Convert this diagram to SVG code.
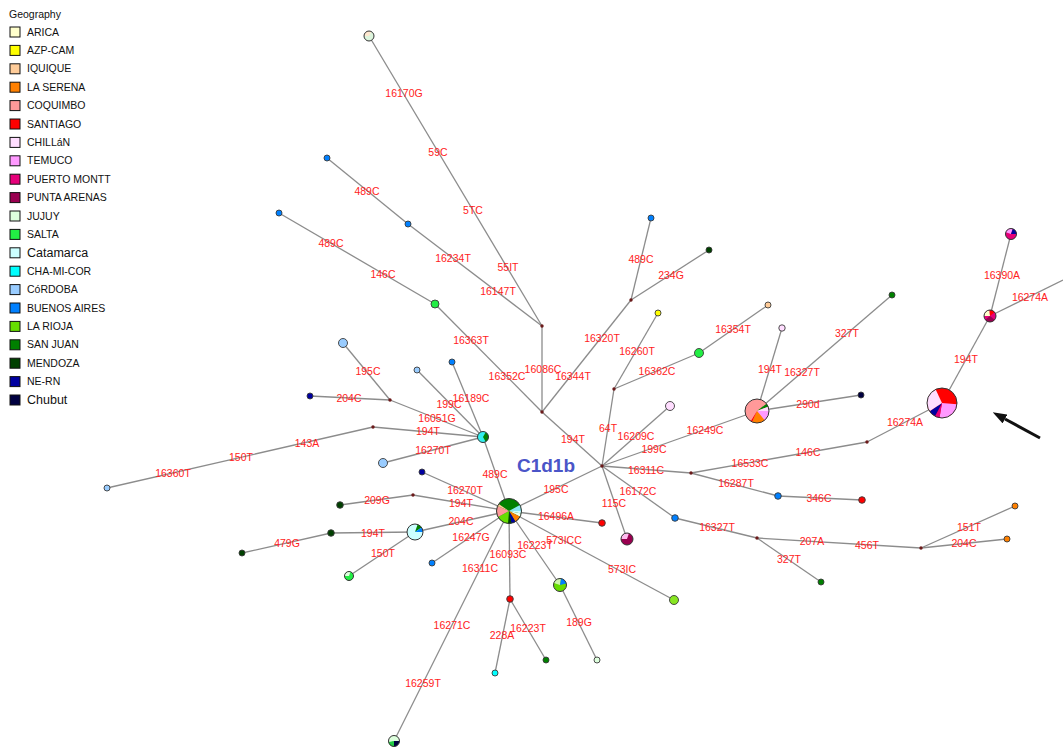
<svg xmlns="http://www.w3.org/2000/svg" width="1063" height="749" viewBox="0 0 1063 749">
<defs>
  <style>
    .edge{stroke:#8c8c8c;stroke-width:1.3;fill:none}
    .lbl{font-family:"Liberation Sans",Arial,sans-serif;font-size:10.5px;fill:#ff2222;text-anchor:middle}
    .lg{font-family:"Liberation Sans",Arial,sans-serif;font-size:10.5px;fill:#111}
    .lgb{font-family:"Liberation Sans",Arial,sans-serif;font-size:12.5px;fill:#111}
    .sw{stroke:#111;stroke-width:1}
    .node{stroke:#3a3a3a;stroke-width:0.9}
    .ring{fill:none;stroke:#333;stroke-width:1}
    .med{fill:#6b1a1a}
    .sl{fill:none}
    .arica{fill:#FFFFCC}.azp{fill:#FFFF00}.iqq{fill:#FFCC99}.lser{fill:#FF8000}.coq{fill:#FF9999}
    .stgo{fill:#FF0000}.chil{fill:#FFDDFF}.tem{fill:#FF99FF}.pmon{fill:#E6007A}.pare{fill:#990050}
    .juj{fill:#DDFFDD}.sal{fill:#22EE44}.cat{fill:#CCFFFF}.cha{fill:#00FFFF}.cor{fill:#99CCFF}
    .bsas{fill:#0080FF}.lrio{fill:#66DD00}.sjua{fill:#008000}.mend{fill:#004000}.nern{fill:#0000A0}.chub{fill:#000040}
    .title{font-family:"Liberation Sans",Arial,sans-serif;font-size:19px;font-weight:bold;fill:#4a55c8;text-anchor:middle}
  </style>
  <marker id="arrowhead" viewBox="0 0 14 10" markerWidth="14" markerHeight="10" refX="0" refY="5" orient="auto" markerUnits="userSpaceOnUse">
    <path d="M0,0 L14,5 L0,10 z" fill="#111"/>
  </marker>
</defs>
<rect width="1063" height="749" fill="#ffffff"/>

<!-- legend -->
<g id="legend">
  <text x="9" y="18" class="lg">Geography</text>
  <rect x="10" y="27" width="10" height="10" class="sw arica"/><text x="27" y="35.5" class="lg">ARICA</text>
  <rect x="10" y="45.4" width="10" height="10" class="sw azp"/><text x="27" y="53.9" class="lg">AZP-CAM</text>
  <rect x="10" y="63.8" width="10" height="10" class="sw iqq"/><text x="27" y="72.3" class="lg">IQUIQUE</text>
  <rect x="10" y="82.2" width="10" height="10" class="sw lser"/><text x="27" y="90.7" class="lg">LA SERENA</text>
  <rect x="10" y="100.6" width="10" height="10" class="sw coq"/><text x="27" y="109.1" class="lg">COQUIMBO</text>
  <rect x="10" y="119" width="10" height="10" class="sw stgo"/><text x="27" y="127.5" class="lg">SANTIAGO</text>
  <rect x="10" y="137.4" width="10" height="10" class="sw chil"/><text x="27" y="145.9" class="lg">CHILLáN</text>
  <rect x="10" y="155.8" width="10" height="10" class="sw tem"/><text x="27" y="164.3" class="lg">TEMUCO</text>
  <rect x="10" y="174.2" width="10" height="10" class="sw pmon"/><text x="27" y="182.7" class="lg">PUERTO MONTT</text>
  <rect x="10" y="192.6" width="10" height="10" class="sw pare"/><text x="27" y="201.1" class="lg">PUNTA ARENAS</text>
  <rect x="10" y="211" width="10" height="10" class="sw juj"/><text x="27" y="219.5" class="lg">JUJUY</text>
  <rect x="10" y="229.4" width="10" height="10" class="sw sal"/><text x="27" y="237.9" class="lg">SALTA</text>
  <rect x="10" y="247.8" width="10" height="10" class="sw cat"/><text x="27" y="257.2" class="lgb">Catamarca</text>
  <rect x="10" y="266.2" width="10" height="10" class="sw cha"/><text x="27" y="274.7" class="lg">CHA-MI-COR</text>
  <rect x="10" y="284.6" width="10" height="10" class="sw cor"/><text x="27" y="293.1" class="lg">CóRDOBA</text>
  <rect x="10" y="303" width="10" height="10" class="sw bsas"/><text x="27" y="311.5" class="lg">BUENOS AIRES</text>
  <rect x="10" y="321.4" width="10" height="10" class="sw lrio"/><text x="27" y="329.9" class="lg">LA RIOJA</text>
  <rect x="10" y="339.8" width="10" height="10" class="sw sjua"/><text x="27" y="348.3" class="lg">SAN JUAN</text>
  <rect x="10" y="358.2" width="10" height="10" class="sw mend"/><text x="27" y="366.7" class="lg">MENDOZA</text>
  <rect x="10" y="376.6" width="10" height="10" class="sw nern"/><text x="27" y="385.1" class="lg">NE-RN</text>
  <rect x="10" y="395" width="10" height="10" class="sw chub"/><text x="27" y="404.4" class="lgb">Chubut</text>
</g>

<!-- connectors -->
<g id="connectors">
  <line class="edge" x1="542" y1="326" x2="369" y2="36"/>
  <line class="edge" x1="542" y1="326" x2="408" y2="224"/>
  <line class="edge" x1="408" y1="224" x2="327" y2="158"/>
  <line class="edge" x1="542" y1="412" x2="435" y2="304"/>
  <line class="edge" x1="435" y1="304" x2="279" y2="213"/>
  <line class="edge" x1="542" y1="326" x2="542" y2="412"/>
  <line class="edge" x1="542" y1="412" x2="602" y2="466"/>
  <line class="edge" x1="542" y1="412" x2="631" y2="300"/>
  <line class="edge" x1="631" y1="300" x2="651" y2="218"/>
  <line class="edge" x1="631" y1="300" x2="709" y2="250"/>
  <line class="edge" x1="614" y1="389" x2="658" y2="313"/>
  <line class="edge" x1="614" y1="389" x2="699" y2="353"/>
  <line class="edge" x1="699" y1="353" x2="768" y2="305"/>
  <line class="edge" x1="614" y1="389" x2="602" y2="466"/>
  <line class="edge" x1="602" y1="466" x2="670" y2="406"/>
  <line class="edge" x1="602" y1="466" x2="757" y2="411"/>
  <line class="edge" x1="757" y1="411" x2="782" y2="328"/>
  <line class="edge" x1="757" y1="411" x2="892" y2="295"/>
  <line class="edge" x1="757" y1="411" x2="861" y2="395"/>
  <line class="edge" x1="602" y1="466" x2="691" y2="473"/>
  <line class="edge" x1="691" y1="473" x2="867" y2="442"/>
  <line class="edge" x1="867" y1="442" x2="942" y2="403"/>
  <line class="edge" x1="942" y1="403" x2="990" y2="316"/>
  <line class="edge" x1="990" y1="316" x2="1011" y2="234"/>
  <line class="edge" x1="990" y1="316" x2="1063" y2="280"/>
  <line class="edge" x1="691" y1="473" x2="778" y2="496"/>
  <line class="edge" x1="778" y1="496" x2="862" y2="500"/>
  <line class="edge" x1="602" y1="466" x2="675" y2="518"/>
  <line class="edge" x1="675" y1="518" x2="757" y2="538"/>
  <line class="edge" x1="757" y1="538" x2="821" y2="582"/>
  <line class="edge" x1="757" y1="538" x2="921" y2="548"/>
  <line class="edge" x1="921" y1="548" x2="1015" y2="506"/>
  <line class="edge" x1="921" y1="548" x2="1007" y2="539"/>
  <line class="edge" x1="602" y1="466" x2="627" y2="539"/>
  <line class="edge" x1="509" y1="511" x2="602" y2="466"/>
  <line class="edge" x1="509" y1="511" x2="602" y2="523"/>
  <line class="edge" x1="509" y1="511" x2="674" y2="600"/>
  <line class="edge" x1="509" y1="511" x2="560" y2="585"/>
  <line class="edge" x1="560" y1="585" x2="597" y2="660"/>
  <line class="edge" x1="509" y1="511" x2="510" y2="599"/>
  <line class="edge" x1="510" y1="599" x2="495" y2="673"/>
  <line class="edge" x1="510" y1="599" x2="546" y2="660"/>
  <line class="edge" x1="509" y1="511" x2="394" y2="741"/>
  <line class="edge" x1="509" y1="511" x2="432" y2="563"/>
  <line class="edge" x1="509" y1="511" x2="415" y2="532"/>
  <line class="edge" x1="415" y1="532" x2="331" y2="533"/>
  <line class="edge" x1="331" y1="533" x2="242" y2="553"/>
  <line class="edge" x1="415" y1="532" x2="349" y2="576"/>
  <line class="edge" x1="509" y1="511" x2="413" y2="495"/>
  <line class="edge" x1="413" y1="495" x2="340" y2="505"/>
  <line class="edge" x1="509" y1="511" x2="422" y2="472"/>
  <line class="edge" x1="509" y1="511" x2="483" y2="437"/>
  <line class="edge" x1="483" y1="437" x2="383" y2="463"/>
  <line class="edge" x1="483" y1="437" x2="373" y2="427"/>
  <line class="edge" x1="373" y1="427" x2="107" y2="488"/>
  <line class="edge" x1="483" y1="437" x2="390" y2="400"/>
  <line class="edge" x1="390" y1="400" x2="310" y2="396"/>
  <line class="edge" x1="390" y1="400" x2="343" y2="343"/>
  <line class="edge" x1="483" y1="437" x2="417" y2="370"/>
  <line class="edge" x1="483" y1="437" x2="452" y2="362"/>

  <!-- mutation labels -->
  <text class="lbl" x="404" y="96.5">16170G</text>
  <text class="lbl" x="438" y="155.5">59C</text>
  <text class="lbl" x="473" y="213.5">5TC</text>
  <text class="lbl" x="508" y="270.5">55IT</text>
  <text class="lbl" x="367" y="194.5">489C</text>
  <text class="lbl" x="453" y="261.5">16234T</text>
  <text class="lbl" x="498" y="294.5">16147T</text>
  <text class="lbl" x="331" y="246.5">489C</text>
  <text class="lbl" x="383" y="277.5">146C</text>
  <text class="lbl" x="471" y="343.5">16363T</text>
  <text class="lbl" x="507" y="379.5">16352C</text>
  <text class="lbl" x="543" y="372.5">16086C</text>
  <text class="lbl" x="573" y="379.5">16344T</text>
  <text class="lbl" x="602" y="341.5">16320T</text>
  <text class="lbl" x="573" y="442.5">194T</text>
  <text class="lbl" x="641" y="262.5">489C</text>
  <text class="lbl" x="671" y="278.5">234G</text>
  <text class="lbl" x="637" y="354.5">16260T</text>
  <text class="lbl" x="657" y="374.5">16362C</text>
  <text class="lbl" x="733" y="332.5">16354T</text>
  <text class="lbl" x="608" y="431.5">64T</text>
  <text class="lbl" x="636" y="439.5">16209C</text>
  <text class="lbl" x="654" y="452.5">199C</text>
  <text class="lbl" x="705" y="433.5">16249C</text>
  <text class="lbl" x="770" y="372.5">194T</text>
  <text class="lbl" x="802" y="375.5">16327T</text>
  <text class="lbl" x="847" y="336.5">327T</text>
  <text class="lbl" x="808" y="407.5">290d</text>
  <text class="lbl" x="646" y="473.5">16311C</text>
  <text class="lbl" x="750" y="466.5">16533C</text>
  <text class="lbl" x="808" y="455.5">146C</text>
  <text class="lbl" x="905" y="425.5">16274A</text>
  <text class="lbl" x="966" y="362.5">194T</text>
  <text class="lbl" x="1002" y="278.5">16390A</text>
  <text class="lbl" x="1030" y="300.5">16274A</text>
  <text class="lbl" x="736" y="486.5">16287T</text>
  <text class="lbl" x="819" y="501.5">346C</text>
  <text class="lbl" x="638" y="494.5">16172C</text>
  <text class="lbl" x="614" y="506.5">115C</text>
  <text class="lbl" x="717" y="530.5">16327T</text>
  <text class="lbl" x="789" y="562.5">327T</text>
  <text class="lbl" x="812" y="544.5">207A</text>
  <text class="lbl" x="867" y="548.5">456T</text>
  <text class="lbl" x="969" y="530.5">151T</text>
  <text class="lbl" x="964" y="546.5">204C</text>
  <text class="lbl" x="556" y="492.5">195C</text>
  <text class="lbl" x="556" y="519.5">16496A</text>
  <text class="lbl" x="564" y="543.5">573ICC</text>
  <text class="lbl" x="622" y="572.5">573IC</text>
  <text class="lbl" x="535" y="549">16223T</text>
  <text class="lbl" x="579" y="625.5">189G</text>
  <text class="lbl" x="508" y="558">16093C</text>
  <text class="lbl" x="502" y="638.5">228A</text>
  <text class="lbl" x="528" y="631.5">16223T</text>
  <text class="lbl" x="480" y="571.5">16311C</text>
  <text class="lbl" x="452" y="628.5">16271C</text>
  <text class="lbl" x="423" y="686.5">16259T</text>
  <text class="lbl" x="471" y="540.5">16247G</text>
  <text class="lbl" x="461" y="524.5">204C</text>
  <text class="lbl" x="373" y="536.5">194T</text>
  <text class="lbl" x="287" y="546.5">479G</text>
  <text class="lbl" x="383" y="556.5">150T</text>
  <text class="lbl" x="461" y="506.5">194T</text>
  <text class="lbl" x="377" y="503.5">209G</text>
  <text class="lbl" x="465" y="493.5">16270T</text>
  <text class="lbl" x="495" y="477.5">489C</text>
  <text class="lbl" x="433" y="453.5">16270T</text>
  <text class="lbl" x="428" y="434.5">194T</text>
  <text class="lbl" x="307" y="446.5">143A</text>
  <text class="lbl" x="241" y="460.5">150T</text>
  <text class="lbl" x="173" y="476.5">16360T</text>
  <text class="lbl" x="437" y="421.5">16051G</text>
  <text class="lbl" x="349" y="401.5">204C</text>
  <text class="lbl" x="368" y="374.5">195C</text>
  <text class="lbl" x="449" y="407.5">199C</text>
  <text class="lbl" x="471" y="401.5">16189C</text>
</g>

<!-- median vectors -->
<g id="medians">
  <circle id="mv1" class="med" cx="542" cy="412" r="1.7"/>
  <circle id="mv2" class="med" cx="542" cy="326" r="1.7"/>
  <circle id="mv3" class="med" cx="602" cy="466" r="1.7"/>
  <circle id="mv4" class="med" cx="614" cy="389" r="1.7"/>
  <circle id="mv5" class="med" cx="631" cy="300" r="1.7"/>
  <circle id="mv6" class="med" cx="691" cy="473" r="1.7"/>
  <circle id="mv7" class="med" cx="867" cy="442" r="1.7"/>
  <circle id="mv8" class="med" cx="757" cy="538" r="1.7"/>
  <circle id="mv9" class="med" cx="921" cy="548" r="1.7"/>
  <circle id="mv10" class="med" cx="413" cy="495" r="1.7"/>
  <circle id="mv11" class="med" cx="373" cy="427" r="1.7"/>
  <circle id="mv12" class="med" cx="390" cy="400" r="1.7"/>
</g>

<!-- haplotype nodes -->
<g id="n-root" transform="translate(509 511)">
  <circle r="12.5" class="sjua"/>
  <circle class="sl" r="6.25" stroke-width="12.5" pathLength="360" stroke="#CCFFFF" stroke-dasharray="12 360" stroke-dashoffset="0"/>
  <circle class="sl" r="6.25" stroke-width="12.5" pathLength="360" stroke="#EEFFEE" stroke-dasharray="16 360" stroke-dashoffset="-12"/>
  <circle class="sl" r="6.25" stroke-width="12.5" pathLength="360" stroke="#FF8000" stroke-dasharray="30 360" stroke-dashoffset="-28"/>
  <circle class="sl" r="6.25" stroke-width="12.5" pathLength="360" stroke="#0000A0" stroke-dasharray="20 360" stroke-dashoffset="-58"/>
  <circle class="sl" r="6.25" stroke-width="12.5" pathLength="360" stroke="#004000" stroke-dasharray="17 360" stroke-dashoffset="-78"/>
  <circle class="sl" r="6.25" stroke-width="12.5" pathLength="360" stroke="#66DD00" stroke-dasharray="55 360" stroke-dashoffset="-95"/>
  <circle class="sl" r="6.25" stroke-width="12.5" pathLength="360" stroke="#FF9999" stroke-dasharray="55 360" stroke-dashoffset="-150"/>
  <circle class="sl" r="6.25" stroke-width="12.5" pathLength="360" stroke="#FFCC99" stroke-dasharray="10 360" stroke-dashoffset="-205"/>
  <circle class="sl" r="6.25" stroke-width="12.5" pathLength="360" stroke="#88E8F4" stroke-dasharray="30 360" stroke-dashoffset="-330"/>
  <circle r="12.5" class="ring"/>
</g>
<g id="n-coquimbo" transform="translate(757 411)">
  <circle r="12" class="coq"/>
  <circle class="sl" r="6" stroke-width="12" pathLength="360" stroke="#FF99FF" stroke-dasharray="50 360" stroke-dashoffset="0"/>
  <circle class="sl" r="6" stroke-width="12" pathLength="360" stroke="#FF8000" stroke-dasharray="65 360" stroke-dashoffset="-50"/>
  <circle class="sl" r="6" stroke-width="12" pathLength="360" stroke="#FF0000" stroke-dasharray="7 360" stroke-dashoffset="-115"/>
  <circle class="sl" r="6" stroke-width="12" pathLength="360" stroke="#008000" stroke-dasharray="16 360" stroke-dashoffset="-322"/>
  <circle class="sl" r="6" stroke-width="12" pathLength="360" stroke="#FFDDFF" stroke-dasharray="22 360" stroke-dashoffset="-338"/>
  <circle r="12" class="ring"/>
</g>
<g id="n-chile-south" transform="translate(942 403)">
  <circle r="15" class="stgo"/>
  <circle class="sl" r="7.5" stroke-width="15" pathLength="360" stroke="#FF99FF" stroke-dasharray="95 360" stroke-dashoffset="-5"/>
  <circle class="sl" r="7.5" stroke-width="15" pathLength="360" stroke="#E6007A" stroke-dasharray="18 360" stroke-dashoffset="-100"/>
  <circle class="sl" r="7.5" stroke-width="15" pathLength="360" stroke="#0000A0" stroke-dasharray="28 360" stroke-dashoffset="-118"/>
  <circle class="sl" r="7.5" stroke-width="15" pathLength="360" stroke="#FFDDFF" stroke-dasharray="99 360" stroke-dashoffset="-146"/>
  <circle r="15" class="ring"/>
</g>
<g id="n-pmontt" transform="translate(990 316)">
  <circle r="6" class="pmon"/>
  <circle class="sl" r="3" stroke-width="6" pathLength="360" stroke="#990050" stroke-dasharray="100 360" stroke-dashoffset="-40"/>
  <circle class="sl" r="3" stroke-width="6" pathLength="360" stroke="#FFFFCC" stroke-dasharray="85 360" stroke-dashoffset="-180"/>
  <circle class="sl" r="3" stroke-width="6" pathLength="360" stroke="#FF0000" stroke-dasharray="55 360" stroke-dashoffset="-265"/>
  <circle r="6" class="ring"/>
</g>
<g id="n-pmontt2" transform="translate(1011 234)">
  <circle r="5.5" class="pmon"/>
  <circle class="sl" r="2.75" stroke-width="5.5" pathLength="360" stroke="#FF99FF" stroke-dasharray="90 360" stroke-dashoffset="-200"/>
  <circle class="sl" r="2.75" stroke-width="5.5" pathLength="360" stroke="#0000A0" stroke-dasharray="70 360" stroke-dashoffset="-290"/>
  <circle r="5.5" class="ring"/>
</g>
<g id="n-parenas" transform="translate(627 539)">
  <circle r="6" class="pare"/>
  <circle class="sl" r="3" stroke-width="6" pathLength="360" stroke="#FFBBEE" stroke-dasharray="110 360" stroke-dashoffset="-180"/>
  <circle r="6" class="ring"/>
</g>
<g id="n-catamarca" transform="translate(415 532)">
  <circle r="8" class="cat"/>
  <circle class="sl" r="4" stroke-width="8" pathLength="360" stroke="#008000" stroke-dasharray="35 360" stroke-dashoffset="-290"/>
  <circle class="sl" r="4" stroke-width="8" pathLength="360" stroke="#0080FF" stroke-dasharray="35 360" stroke-dashoffset="-325"/>
  <circle r="8" class="ring"/>
</g>
<g id="n-larioja" transform="translate(560 585)">
  <circle r="6.5" class="lrio"/>
  <circle class="sl" r="3.25" stroke-width="6.5" pathLength="360" stroke="#CCF5AA" stroke-dasharray="80 360" stroke-dashoffset="-200"/>
  <circle class="sl" r="3.25" stroke-width="6.5" pathLength="360" stroke="#0080FF" stroke-dasharray="65 360" stroke-dashoffset="-280"/>
  <circle r="6.5" class="ring"/>
</g>
<g id="n-chamicor" transform="translate(483 437)">
  <circle r="5.5" fill="#33EEEE"/>
  <circle class="sl" r="2.75" stroke-width="5.5" pathLength="360" stroke="#008000" stroke-dasharray="60 360" stroke-dashoffset="-300"/>
  <circle class="sl" r="2.75" stroke-width="5.5" pathLength="360" stroke="#008000" stroke-dasharray="60 360" stroke-dashoffset="0"/>
  <circle r="5.5" class="ring"/>
</g>
<g id="n-bottom" transform="translate(394 741)">
  <circle r="5.5" class="juj"/>
  <circle class="sl" r="2.75" stroke-width="5.5" pathLength="360" stroke="#000040" stroke-dasharray="90 360" stroke-dashoffset="0"/>
  <circle class="sl" r="2.75" stroke-width="5.5" pathLength="360" stroke="#22CC44" stroke-dasharray="80 360" stroke-dashoffset="-90"/>
  <circle r="5.5" class="ring"/>
</g>
<g id="n-top" transform="translate(369 36)">
  <circle r="5" fill="#DDF5DD"/>
  <circle class="sl" r="2.5" stroke-width="5" pathLength="360" stroke="#FFE8D0" stroke-dasharray="120 360" stroke-dashoffset="-180"/>
  <circle r="5" class="ring"/>
</g>
<g id="n-salta3" transform="translate(349 576)">
  <circle r="4.5" class="sal"/>
  <circle class="sl" r="2.25" stroke-width="4.5" pathLength="360" stroke="#DDFFDD" stroke-dasharray="110 360" stroke-dashoffset="-180"/>
  <circle r="4.5" class="ring"/>
</g>

<g id="n-ba1"><circle class="node bsas" cx="327" cy="158" r="3"/></g>
<g id="n-ba2"><circle class="node bsas" cx="408" cy="224" r="3"/></g>
<g id="n-ba3"><circle class="node bsas" cx="279" cy="213" r="3"/></g>
<g id="n-salta1"><circle class="node sal" cx="435" cy="304" r="4"/></g>
<g id="n-ba4"><circle class="node bsas" cx="651" cy="218" r="3"/></g>
<g id="n-mend1"><circle class="node mend" cx="709" cy="250" r="3"/></g>
<g id="n-azp"><circle class="node azp" cx="658" cy="313" r="3"/></g>
<g id="n-salta2"><circle class="node sal" cx="699" cy="353" r="4.5"/></g>
<g id="n-iqq"><circle class="node iqq" cx="768" cy="305" r="3"/></g>
<g id="n-chil1"><circle class="node chil" cx="670" cy="406" r="4.5"/></g>
<g id="n-chil2"><circle class="node chil" cx="782" cy="328" r="3.2"/></g>
<g id="n-sj1"><circle class="node sjua" cx="892" cy="295" r="3"/></g>
<g id="n-chub"><circle class="node chub" cx="861" cy="395" r="3"/></g>
<g id="n-ba5"><circle class="node bsas" cx="778" cy="496" r="3.3"/></g>
<g id="n-stgo1"><circle class="node stgo" cx="862" cy="500" r="3.3"/></g>
<g id="n-ba6"><circle class="node bsas" cx="675" cy="518" r="3.3"/></g>
<g id="n-sj2"><circle class="node sjua" cx="821" cy="582" r="3"/></g>
<g id="n-lser1"><circle class="node lser" cx="1015" cy="506" r="3"/></g>
<g id="n-lser2"><circle class="node lser" cx="1007" cy="539" r="3"/></g>
<g id="n-stgo2"><circle class="node stgo" cx="602" cy="523" r="3.3"/></g>
<g id="n-lrio1"><circle class="node" fill="#88E622" cx="674" cy="600" r="4.5"/></g>
<g id="n-juj1"><circle class="node juj" cx="597" cy="660" r="3"/></g>
<g id="n-stgo3"><circle class="node stgo" cx="510" cy="599" r="3.3"/></g>
<g id="n-cha1"><circle class="node cha" cx="495" cy="673" r="3"/></g>
<g id="n-sj3"><circle class="node sjua" cx="546" cy="660" r="3"/></g>
<g id="n-ba7"><circle class="node bsas" cx="432" cy="563" r="3"/></g>
<g id="n-mend2"><circle class="node mend" cx="331" cy="533" r="3.3"/></g>
<g id="n-mend3"><circle class="node mend" cx="242" cy="553" r="3"/></g>
<g id="n-mend4"><circle class="node mend" cx="340" cy="505" r="3.3"/></g>
<g id="n-nern1"><circle class="node nern" cx="422" cy="472" r="3"/></g>
<g id="n-cor1"><circle class="node cor" cx="383" cy="463" r="4.5"/></g>
<g id="n-cor2"><circle class="node cor" cx="107" cy="488" r="3"/></g>
<g id="n-nern2"><circle class="node nern" cx="310" cy="396" r="3"/></g>
<g id="n-cor3"><circle class="node cor" cx="343" cy="343" r="4.5"/></g>
<g id="n-cor4"><circle class="node cor" cx="417" cy="370" r="3"/></g>
<g id="n-ba8"><circle class="node bsas" cx="452" cy="362" r="3"/></g>

<!-- haplogroup name -->
<text class="title" x="546" y="472">C1d1b</text>

<!-- pointer arrow -->
<g id="pointer">
  <line x1="1040" y1="438" x2="1005" y2="419" stroke="#111" stroke-width="3" marker-end="url(#arrowhead)"/>
</g>
</svg>
